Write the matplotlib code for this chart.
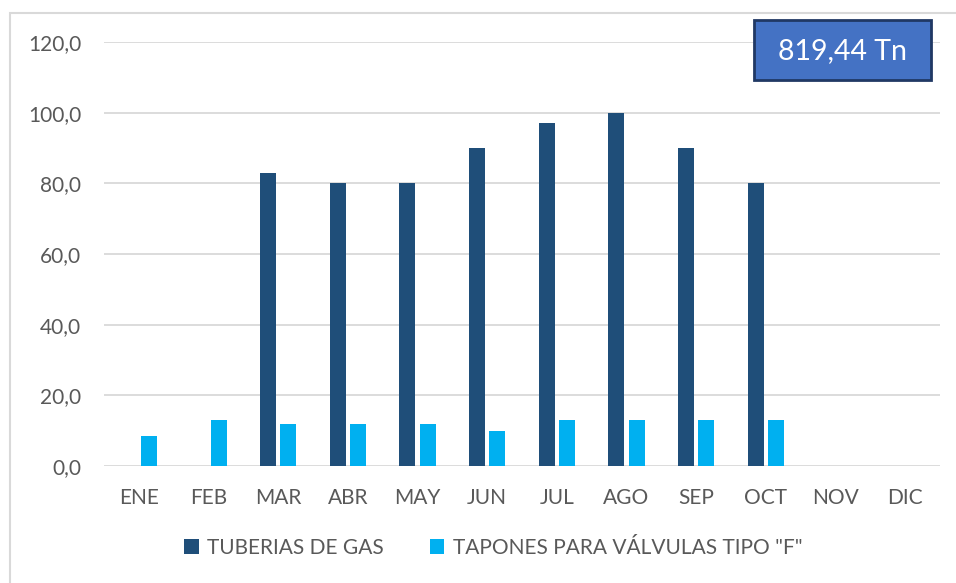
import numpy as np
import matplotlib.pyplot as plt
from matplotlib.patches import Rectangle

# Monthly data (Tn)
meses = ['ENE', 'FEB', 'MAR', 'ABR', 'MAY', 'JUN', 'JUL', 'AGO', 'SEP', 'OCT', 'NOV', 'DIC']
tuberias = [0, 0, 83, 80, 80, 90, 97, 100, 90, 80, 0, 0]
tapones = [8.5, 13, 12, 12, 12, 10, 13, 13, 13, 13, 0, 0]
total_label = '819,44 Tn'

plt.rcParams['font.family'] = ['Lato', 'DejaVu Sans']
gray = '#595959'
W, H = 956, 583

fig = plt.figure(figsize=(9.56, 5.83), dpi=100)
ax = fig.add_axes([104 / W, 1 - 466 / H, (940 - 104) / W, (466 - 42) / H])

x = np.arange(len(meses))
w = 0.23
ax.bar(x - 0.145, tuberias, w, color='#1F4E79', label='TUBERIAS DE GAS', zorder=3)
ax.bar(x + 0.145, tapones, w, color='#00B0F0', label='TAPONES PARA VÁLVULAS TIPO "F"', zorder=3)

ax.set_xlim(-0.5, len(meses) - 0.5)
ax.set_ylim(0, 120)
ax.set_yticks(np.arange(0, 121, 20))
ax.set_yticklabels([f'{v:.1f}'.replace('.', ',') for v in np.arange(0, 121, 20)])
ax.set_xticks(x)
ax.set_xticklabels(meses)
ax.tick_params(axis='both', length=0, colors=gray, labelsize=15)
ax.tick_params(axis='y', pad=16.5)
ax.tick_params(axis='x', pad=16)
ax.grid(axis='y', color='#D9D9D9', linewidth=1.3, zorder=0)
for s in ax.spines.values():
    s.set_visible(False)

# total box
fig.patches.append(Rectangle((754 / W, 1 - 80 / H), (931 - 754) / W, 60 / H, transform=fig.transFigure,
                             facecolor='#4472C4', edgecolor='#203864', linewidth=2))
fig.text((754 + 931) / 2 / W, 1 - 51 / H, total_label, ha='center', va='center',
         color='white', fontsize=20.5)

leg = fig.legend(loc='center', bbox_to_anchor=(0.516, 1 - 548 / H), ncol=2, frameon=False,
                 fontsize=15, handlelength=0.7, handleheight=0.7, columnspacing=2.2, handletextpad=0.4)
for t in leg.get_texts():
    t.set_color(gray)

# outer chart border
fig.patches.append(Rectangle((10 / W, -0.1), 1.2, 1 - 13 / H + 0.1, transform=fig.transFigure,
                             fill=False, edgecolor='#D9D9D9', linewidth=1.5))

fig.savefig('out.png', dpi=100)
